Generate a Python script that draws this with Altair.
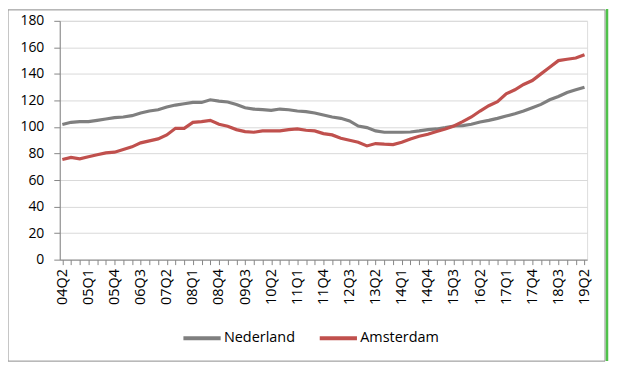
import json
import altair as alt
import pandas as pd

quarters = [
    "04Q2", "04Q3", "04Q4", "05Q1", "05Q2", "05Q3", "05Q4", "06Q1", "06Q2", "06Q3",
    "06Q4", "07Q1", "07Q2", "07Q3", "07Q4", "08Q1", "08Q2", "08Q3", "08Q4", "09Q1",
    "09Q2", "09Q3", "09Q4", "10Q1", "10Q2", "10Q3", "10Q4", "11Q1", "11Q2", "11Q3",
    "11Q4", "12Q1", "12Q2", "12Q3", "12Q4", "13Q1", "13Q2", "13Q3", "13Q4", "14Q1",
    "14Q2", "14Q3", "14Q4", "15Q1", "15Q2", "15Q3", "15Q4", "16Q1", "16Q2", "16Q3",
    "16Q4", "17Q1", "17Q2", "17Q3", "17Q4", "18Q1", "18Q2", "18Q3", "18Q4", "19Q1",
    "19Q2",
]

shown_labels = [
    "04Q2", "05Q1", "05Q4", "06Q3", "07Q2", "08Q1", "08Q4", "09Q3", "10Q2", "11Q1",
    "11Q4", "12Q3", "13Q2", "14Q1", "14Q4", "15Q3", "16Q2", "17Q1", "17Q4", "18Q3",
    "19Q2",
]

nederland = [
    101.8, 103.5, 104.0, 104.0, 105.0, 106.0, 107.0, 107.5, 108.5, 110.5,
    112.0, 113.0, 115.0, 116.5, 117.5, 118.5, 118.5, 120.5, 119.5, 118.8,
    117.0, 114.5, 113.5, 113.0, 112.5, 113.5, 113.0, 112.0, 111.5, 110.5,
    109.0, 107.5, 106.5, 104.5, 100.7, 99.5, 97.0, 96.0, 96.0, 96.0,
    96.2, 97.0, 98.0, 98.5, 99.5, 100.7, 101.0, 102.0, 103.7, 105.0,
    106.5, 108.2, 110.0, 112.0, 114.5, 117.0, 120.5, 123.0, 126.0, 128.0,
    130.0,
]

amsterdam = [
    75.5, 77.0, 76.0, 77.5, 79.0, 80.5, 81.0, 83.0, 85.0, 88.0,
    89.5, 91.0, 94.0, 99.0, 99.0, 103.5, 104.0, 105.0, 102.0, 100.5,
    98.0, 96.5, 96.0, 97.0, 97.0, 97.0, 98.0, 98.5, 97.5, 97.0,
    95.0, 94.0, 91.5, 90.0, 88.5, 85.7, 87.5, 87.0, 86.7, 88.5,
    91.0, 93.0, 94.5, 96.5, 98.5, 100.7, 104.0, 107.5, 112.0, 116.0,
    119.0, 125.0, 128.0, 132.0, 135.0, 140.0, 145.0, 150.0, 151.0, 152.0,
    154.5,
]

series_names = ["Nederland", "Amsterdam"]
series_colors = ["#7f7f7f", "#c0504d"]
y_ticks = [0, 20, 40, 60, 80, 100, 120, 140, 160, 180]

rows = []
for q, v in zip(quarters, nederland):
    rows.append({"kwartaal": q, "reeks": "Nederland", "waarde": v})
for q, v in zip(quarters, amsterdam):
    rows.append({"kwartaal": q, "reeks": "Amsterdam", "waarde": v})
df = pd.DataFrame(rows)

label_expr = "indexof(" + json.dumps(shown_labels) + ", datum.value) >= 0 ? datum.value : ''"

FONT = "Open Sans"

lines = alt.Chart(df).mark_line(strokeWidth=3.2).encode(
    x=alt.X(
        "kwartaal:O",
        sort=quarters,
        scale=alt.Scale(type="point", padding=0.3),
        axis=alt.Axis(
            title=None,
            labelAngle=270,
            labelExpr=label_expr,
            labelFont=FONT,
            labelFontSize=14.5,
            labelColor="#000000",
            labelPadding=4,
            labelOverlap=False,
            tickSize=5,
            tickColor="#868686",
            domainColor="#868686",
            grid=False,
        ),
    ),
    y=alt.Y(
        "waarde:Q",
        scale=alt.Scale(domain=[0, 180], nice=False),
        axis=alt.Axis(
            title=None,
            values=y_ticks,
            labelFont=FONT,
            labelFontSize=14,
            labelColor="#000000",
            labelPadding=10,
            tickSize=6,
            tickColor="#868686",
            domainColor="#868686",
            gridColor="#d9d9d9",
            gridWidth=1,
        ),
    ),
    color=alt.Color(
        "reeks:N",
        sort=series_names,
        scale=alt.Scale(domain=series_names, range=series_colors),
        legend=alt.Legend(
            title=None,
            orient="none",
            direction="horizontal",
            legendX=122,
            legendY=298,
            symbolType="stroke",
            symbolSize=1400,
            symbolStrokeWidth=4,
            labelFont=FONT,
            labelFontSize=14.5,
            labelColor="#000000",
            labelOffset=1,
            columnPadding=16,
        ),
    ),
)

frame_data = alt.Data(values=[{"k": 1}])

frame = alt.Chart(frame_data).mark_rect(
    fill=None, stroke="#8c8c8c", strokeWidth=1
).encode(
    x=alt.value(-52), x2=alt.value(548), y=alt.value(-11), y2=alt.value(342)
)

green = alt.Chart(frame_data).mark_rule(
    stroke="#4fc24a", strokeWidth=2.5
).encode(
    x=alt.value(550), y=alt.value(-12), y2=alt.value(342)
)

chart = alt.layer(frame, lines, green).properties(
    width=530,
    height=240,
    autosize=alt.AutoSizeParams(type="none"),
    padding={"left": 52, "top": 12, "right": 22, "bottom": 103},
).configure_view(stroke=None).configure(background="white")

chart.save("out.html", embed_options={"renderer": "svg", "actions": False})
